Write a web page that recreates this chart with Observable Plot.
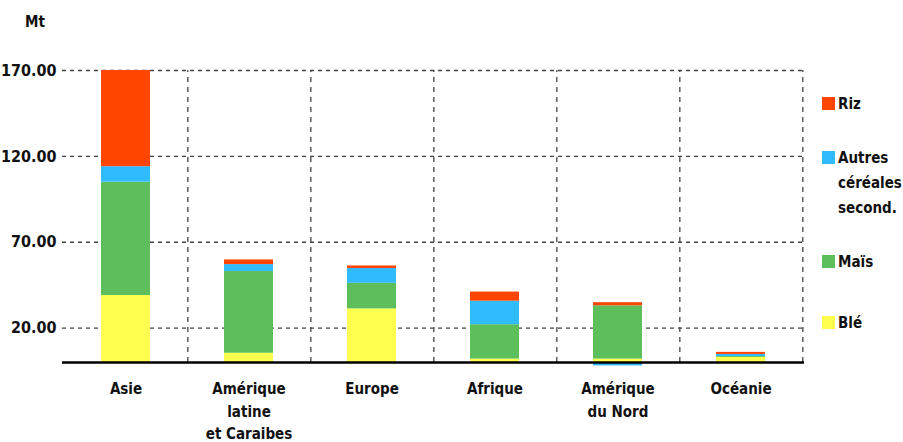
<!DOCTYPE html>
<html><head><meta charset="utf-8">
<script src="https://cdn.jsdelivr.net/npm/d3@7"></script>
<script src="https://cdn.jsdelivr.net/npm/@observablehq/plot@0.6"></script>
<style>
body{margin:0;background:#fff;}
#wrap{position:relative;width:903px;height:442px;font-family:"DejaVu Sans Condensed","DejaVu Sans",sans-serif;font-weight:bold;color:#111;}
#wrap svg{position:absolute;left:0;top:0;}
.leg{position:absolute;left:838px;font-size:15px;line-height:25px;white-space:pre;}
.sw{position:absolute;left:822px;width:13px;height:13px;}
.unit{position:absolute;left:25px;top:13px;font-size:15px;}
</style></head><body><div id="wrap"></div>
<script>
const regions = ["Asie", "Amérique\nlatine\net Caraibes", "Europe", "Afrique", "Amérique\ndu Nord", "Océanie"];
const series = ["Blé", "Maïs", "Autres céréales second.", "Riz"];
const seriesLabels = ["Blé", "Maïs", "Autres\ncéréales\nsecond.", "Riz"];
const colors = ["#FFFF4D", "#5CBF5C", "#30BBFF", "#FF4500"];
const ble    = [39, 5.4, 31.2, 2, 2, 3];
const mais   = [66, 47.6, 14.9, 20, 31, 0.5];
const autres = [9, 4, 8.6, 13.7, -2, 1.2];
const riz    = [56, 2.7, 1.5, 5.3, 1.8, 1.2];
const yTicks = [20, 70, 120, 170];

const valuesBySeries = [ble, mais, autres, riz];
const table = [];
series.forEach((s, si) => regions.forEach((r, ri) => table.push({series: s, region: r, value: valuesBySeries[si][ri]})));

const W = 903, H = 442, mL = 62, mR = 99;
const step = (W - mL - mR) / regions.length;

const chart = Plot.plot({
  width: W, height: H,
  marginLeft: mL, marginRight: mR, marginTop: 70, marginBottom: 80,
  style: {fontFamily: '"DejaVu Sans Condensed","DejaVu Sans",sans-serif', fontWeight: "bold", color: "#111", background: "transparent"},
  x: {domain: regions, paddingInner: 0.6, paddingOuter: 0.3},
  y: {domain: [0, 170]},
  color: {domain: series, range: colors},
  marks: [
    Plot.ruleY(yTicks, {stroke: "#444", strokeWidth: 1.3, strokeDasharray: "4,4"}),
    Plot.ruleX(regions, {x: d => d, dx: step / 2, y1: 0, y2: 170, stroke: "#444", strokeWidth: 1.3, strokeDasharray: "5,5"}),
    Plot.barY(table, Plot.stackY({x: "region", y: "value", fill: "series", order: series})),
    Plot.ruleY([0], {stroke: "#000", strokeWidth: 2.5}),
    Plot.axisY({ticks: yTicks, tickFormat: d3.format(".2f"), tickSize: 0, tickPadding: 6, fontSize: 16, label: null}),
    Plot.axisX({tickSize: 0, tickPadding: 16, fontSize: 15, lineHeight: 1.5, label: null})
  ]
});

const wrap = document.getElementById("wrap");
wrap.appendChild(chart);

const unit = document.createElement("div");
unit.className = "unit"; unit.textContent = "Mt";
wrap.appendChild(unit);

const legTop = {"Riz": 92, "Autres céréales second.": 146, "Maïs": 250, "Blé": 311};
series.forEach((s, i) => {
  const sw = document.createElement("div");
  sw.className = "sw"; sw.style.background = colors[i]; sw.style.top = (legTop[s] + 5) + "px";
  wrap.appendChild(sw);
  const t = document.createElement("div");
  t.className = "leg"; t.textContent = seriesLabels[i]; t.style.top = legTop[s] + "px";
  wrap.appendChild(t);
});
</script></body></html>
